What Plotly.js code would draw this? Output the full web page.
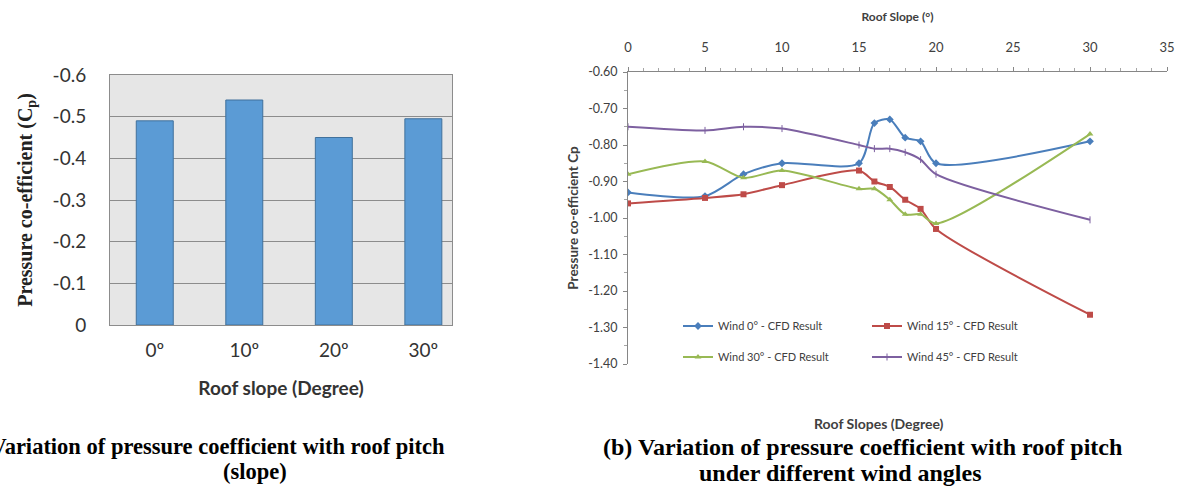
<!DOCTYPE html>
<html><head><meta charset="utf-8">
<script src="https://cdn.plot.ly/plotly-3.0.1.min.js"></script>
<style>html,body{margin:0;padding:0;background:#fff}#chart{width:1177px;height:497px}</style>
</head><body><div id="chart"></div>
<script>
// ---- Left chart data (bar) ----
const barCategories = ["0º", "10º", "20º", "30º"];
const barValues = [-0.49, -0.54, -0.45, -0.495];
const barTicks = [0, -0.1, -0.2, -0.3, -0.4, -0.5, -0.6];

// ---- Right chart data (lines) ----
const slopes = [0, 5, 7.5, 10, 15, 16, 17, 18, 19, 20, 30];
const wind0  = [-0.93, -0.94, -0.88, -0.85, -0.85, -0.74, -0.73, -0.78, -0.79, -0.85, -0.79];
const wind15 = [-0.96, -0.945, -0.935, -0.91, -0.87, -0.90, -0.915, -0.95, -0.975, -1.03, -1.265];
const wind30 = [-0.88, -0.845, -0.89, -0.87, -0.92, -0.92, -0.95, -0.99, -0.99, -1.015, -0.77];
const wind45 = [-0.75, -0.76, -0.75, -0.755, -0.80, -0.81, -0.81, -0.82, -0.84, -0.88, -1.005];
const seriesNames = ["Wind 0° - CFD Result", "Wind 15° - CFD Result", "Wind 30° - CFD Result", "Wind 45° - CFD Result"];
const lineTicks = [-0.6, -0.7, -0.8, -0.9, -1.0, -1.1, -1.2, -1.3, -1.4];

const W = 1177, H = 497;
const px = v => v / W, py = v => 1 - v / H;
const sans = "Lato, 'Open Sans', sans-serif";
const serif = "'Liberation Serif', 'DejaVu Serif', serif";

const traces = [
  { type: 'bar', x: barCategories, y: barValues, xaxis: 'x', yaxis: 'y', showlegend: false,
    marker: { color: '#5b9bd5', line: { color: '#41719c', width: 1 } } },
  { type: 'scatter', mode: 'lines+markers', x: slopes, y: wind0, name: seriesNames[0], xaxis: 'x2', yaxis: 'y2', legend: 'legend',
    line: { color: '#4a7ebb', width: 2, shape: 'spline', smoothing: 0.8 }, marker: { symbol: 'diamond', size: 6, color: '#4a7ebb' } },
  { type: 'scatter', mode: 'lines+markers', x: slopes, y: wind15, name: seriesNames[1], xaxis: 'x2', yaxis: 'y2', legend: 'legend',
    line: { color: '#be4b48', width: 2, shape: 'spline', smoothing: 0.8 }, marker: { symbol: 'square', size: 6, color: '#be4b48' } },
  { type: 'scatter', mode: 'lines+markers', x: slopes, y: wind30, name: seriesNames[2], xaxis: 'x2', yaxis: 'y2', legend: 'legend2',
    line: { color: '#98b954', width: 2, shape: 'spline', smoothing: 0.8 }, marker: { symbol: 'triangle-up', size: 6, color: '#98b954' } },
  { type: 'scatter', mode: 'lines+markers', x: slopes, y: wind45, name: seriesNames[3], xaxis: 'x2', yaxis: 'y2', legend: 'legend2',
    line: { color: '#7d60a0', width: 2, shape: 'spline', smoothing: 0.8 }, marker: { symbol: 'line-ns-open', size: 5, color: '#7d60a0', line: { width: 1, color: '#7d60a0' } } }
];

const legendBase = { orientation: 'h', xanchor: 'left', yanchor: 'middle', bgcolor: 'rgba(0,0,0,0)',
  font: { family: sans, size: 11, color: '#404040' }, entrywidth: 144, entrywidthmode: 'pixels', itemwidth: 30 };

const layout = {
  width: W, height: H, margin: { l: 0, r: 0, t: 0, b: 0 },
  paper_bgcolor: '#fff', plot_bgcolor: 'rgba(0,0,0,0)',
  bargap: 0.587,
  font: { family: sans, color: '#404040' },
  xaxis: { domain: [px(110), px(452)], anchor: 'y', type: 'category', range: [-0.5, 3.32],
    showline: true, linecolor: '#8c8c8c', mirror: true, ticks: '', showgrid: false,
    tickfont: { family: sans, size: 19, color: '#333' }, ticklabelstandoff: 8,
    title: { text: '<b>Roof slope (Degree)</b>', font: { family: sans, size: 19, color: '#333' }, standoff: 21 } },
  yaxis: { domain: [py(325), py(75)], anchor: 'x', range: [0, -0.6],
    tickvals: barTicks, ticktext: barTicks.map(v => v === 0 ? '0' : v.toFixed(1)),
    showgrid: true, gridcolor: '#8c8c8c', gridwidth: 1, zeroline: false,
    showline: true, linecolor: '#8c8c8c', mirror: true, ticks: '',
    tickfont: { family: sans, size: 19, color: '#333' }, ticklabelstandoff: 19,
    title: { text: '<b>Pressure co-efficient (C<sub>p</sub>)</b>', font: { family: serif, size: 20, color: '#222' }, standoff: 14 } },
  xaxis2: { domain: [px(628), px(1167)], anchor: 'y2', side: 'top', range: [0, 35], dtick: 5, tick0: 0,
    showline: true, linecolor: '#868686', showgrid: false, zeroline: false,
    ticks: 'outside', ticklen: 4, tickcolor: '#868686',
    minor: { dtick: 1, ticks: 'outside', ticklen: 3, tickcolor: '#a6a6a6', showgrid: false },
    tickfont: { family: sans, size: 13, color: '#404040' }, ticklabelstandoff: 10,
    title: { text: '<b>Roof Slope (°)</b>', font: { family: sans, size: 12, color: '#404040' }, standoff: 14 } },
  yaxis2: { domain: [py(364), py(72)], anchor: 'x2', range: [-1.4, -0.6],
    tickvals: lineTicks, ticktext: lineTicks.map(v => v.toFixed(2)),
    showline: true, linecolor: '#868686', showgrid: false, zeroline: false,
    ticks: 'outside', ticklen: 4, tickcolor: '#868686',
    minor: { dtick: 0.05, ticks: 'outside', ticklen: 3, tickcolor: '#a6a6a6', showgrid: false },
    tickfont: { family: sans, size: 12.5, color: '#404040' }, ticklabelstandoff: 3,
    title: { text: '<b>Pressure co-efficient Cp</b>', font: { family: sans, size: 13.5, color: '#404040' }, standoff: 6 } },
  legend: Object.assign({}, legendBase, { x: px(678), y: py(326) }),
  legend2: Object.assign({}, legendBase, { x: px(678), y: py(357) }),
  shapes: [
    { type: 'rect', xref: 'x domain', yref: 'y domain', x0: 0, x1: 1, y0: 0, y1: 1,
      fillcolor: '#e6e6e6', line: { width: 0 }, layer: 'below' }
  ],
  annotations: [
    { xref: 'paper', yref: 'paper', x: px(879), y: py(423), xanchor: 'center', yanchor: 'middle', showarrow: false,
      text: '<b>Roof Slopes (Degree)</b>', font: { family: sans, size: 14, color: '#404040' } },
    { xref: 'paper', yref: 'paper', x: px(447), y: py(446), xanchor: 'right', yanchor: 'middle', showarrow: false,
      text: '<b>(a) Variation of pressure coefficient with roof pitch</b>', font: { family: serif, size: 22.5, color: '#000' } },
    { xref: 'paper', yref: 'paper', x: px(255), y: py(471), xanchor: 'center', yanchor: 'middle', showarrow: false,
      text: '<b>(slope)</b>', font: { family: serif, size: 22.5, color: '#000' } },
    { xref: 'paper', yref: 'paper', x: px(862), y: py(447), xanchor: 'center', yanchor: 'middle', showarrow: false,
      text: '<b>(b) Variation of pressure coefficient with roof pitch</b>', font: { family: serif, size: 24, color: '#000' } },
    { xref: 'paper', yref: 'paper', x: px(840), y: py(473), xanchor: 'center', yanchor: 'middle', showarrow: false,
      text: '<b>under different wind angles</b>', font: { family: serif, size: 24, color: '#000' } }
  ]
};

Plotly.newPlot('chart', traces, layout, { displayModeBar: false, staticPlot: true });
</script>
</body></html>
